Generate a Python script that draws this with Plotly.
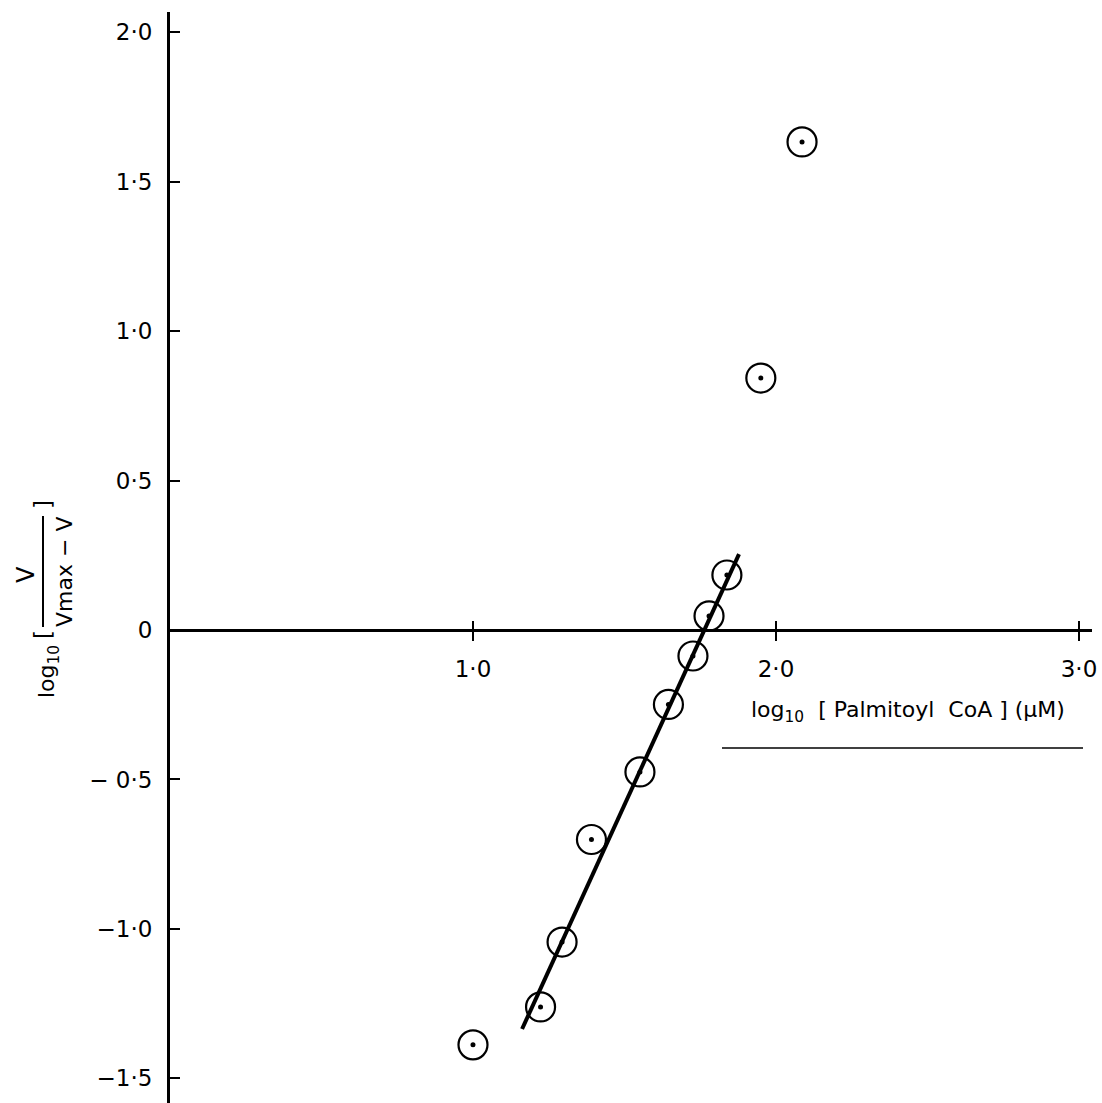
import plotly.graph_objects as go

# ---- data ----
log_conc = [1.000, 1.223, 1.294, 1.391, 1.551, 1.645, 1.726, 1.779, 1.838, 1.950, 2.086]
log_ratio = [-1.388, -1.261, -1.044, -0.701, -0.475, -0.249, -0.087, 0.047, 0.184, 0.843, 1.633]

fit_x = [1.162, 1.878]
fit_y = [-1.335, 0.254]

x_tickvals = [1.0, 2.0, 3.0]
x_ticktext = ["1·0", "2·0", "3·0"]
y_tickvals = [-1.5, -1.0, -0.5, 0.0, 0.5, 1.0, 1.5, 2.0]
y_ticktext = ["−1·5", "−1·0", "− 0·5", "0", "0·5", "1·0", "1·5", "2·0"]

W, H = 1102, 1103
FONT = "DejaVu Sans"


def px(xp):
    return xp / W


def py(yp):
    return 1 - yp / H


fig = go.Figure()

fig.add_trace(go.Scatter(
    x=fit_x, y=fit_y, mode="lines",
    line=dict(color="black", width=4),
    showlegend=False, hoverinfo="skip"))

fig.add_trace(go.Scatter(
    x=log_conc, y=log_ratio, mode="markers",
    marker=dict(symbol="circle-open", size=29, color="black",
                line=dict(color="black", width=2.2)),
    showlegend=False))

# centre dots (drawn on an overlaying axis that also carries the upper tick halves)
fig.add_trace(go.Scatter(
    x=log_conc, y=log_ratio, mode="markers", xaxis="x2",
    marker=dict(symbol="circle", size=5, color="black"),
    showlegend=False, hoverinfo="skip"))

XPOS = 1 - 630 / H
XDOM = [170 / W, 1092 / W]
XRANGE = [0, 3.043]

fig.update_layout(
    width=W, height=H,
    margin=dict(l=0, r=0, t=0, b=0, pad=0),
    paper_bgcolor="white", plot_bgcolor="white",
    font=dict(family=FONT, color="black", size=23),
    xaxis=dict(
        domain=XDOM, range=XRANGE,
        anchor="free", position=XPOS,
        showgrid=False, zeroline=False,
        showline=True, linecolor="black", linewidth=3,
        ticks="outside", ticklen=9, tickwidth=2, tickcolor="black",
        tickvals=x_tickvals, ticktext=x_ticktext,
        ticklabelstandoff=8,
        tickfont=dict(family=FONT, size=23, color="black"),
        automargin=False,
    ),
    xaxis2=dict(
        overlaying="x", matches="x", range=XRANGE,
        anchor="free", position=XPOS,
        showgrid=False, zeroline=False, showline=False,
        ticks="inside", ticklen=9, tickwidth=2, tickcolor="black",
        tickvals=x_tickvals, showticklabels=False,
        automargin=False,
    ),
    yaxis=dict(
        domain=[0, 1 - 12 / H], range=[-1.5825, 2.0676],
        anchor="x", side="left",
        showgrid=False, zeroline=False,
        showline=True, linecolor="black", linewidth=3,
        ticks="inside", ticklen=10, tickwidth=2, tickcolor="black",
        tickvals=y_tickvals, ticktext=y_ticktext,
        ticklabelstandoff=10,
        tickfont=dict(family=FONT, size=23, color="black"),
        automargin=False,
    ),
)

# x-axis title with underline
fig.add_annotation(
    x=px(908), y=py(711), xref="paper", yref="paper",
    text="log<sub>10</sub>  [ Palmitoyl  CoA ] (µM)",
    showarrow=False, xanchor="center", yanchor="middle",
    font=dict(family=FONT, size=22, color="black"))
fig.add_shape(type="line", xref="paper", yref="paper",
              x0=px(722), x1=px(1083), y0=py(748), y1=py(748),
              line=dict(color="black", width=1.5))

# y-axis title: log10 [ V / (Vmax - V) ]
ann = dict(xref="paper", yref="paper", showarrow=False, textangle=-90,
           xanchor="center", yanchor="middle")
fig.add_annotation(x=px(48), y=py(672), text="log<sub>10</sub>",
                   font=dict(family=FONT, size=22, color="black"), **ann)
fig.add_annotation(x=px(43), y=py(635), text="[",
                   font=dict(family=FONT, size=23, color="black"), **ann)
fig.add_annotation(x=px(26), y=py(575), text="V",
                   font=dict(family=FONT, size=24, color="black"), **ann)
fig.add_annotation(x=px(64), y=py(572), text="Vmax − V",
                   font=dict(family=FONT, size=22, color="black"), **ann)
fig.add_annotation(x=px(43), y=py(505), text="]",
                   font=dict(family=FONT, size=23, color="black"), **ann)
fig.add_shape(type="line", xref="paper", yref="paper",
              x0=px(43), x1=px(43), y0=py(516), y1=py(627),
              line=dict(color="black", width=2))

fig.write_html("out.html")
